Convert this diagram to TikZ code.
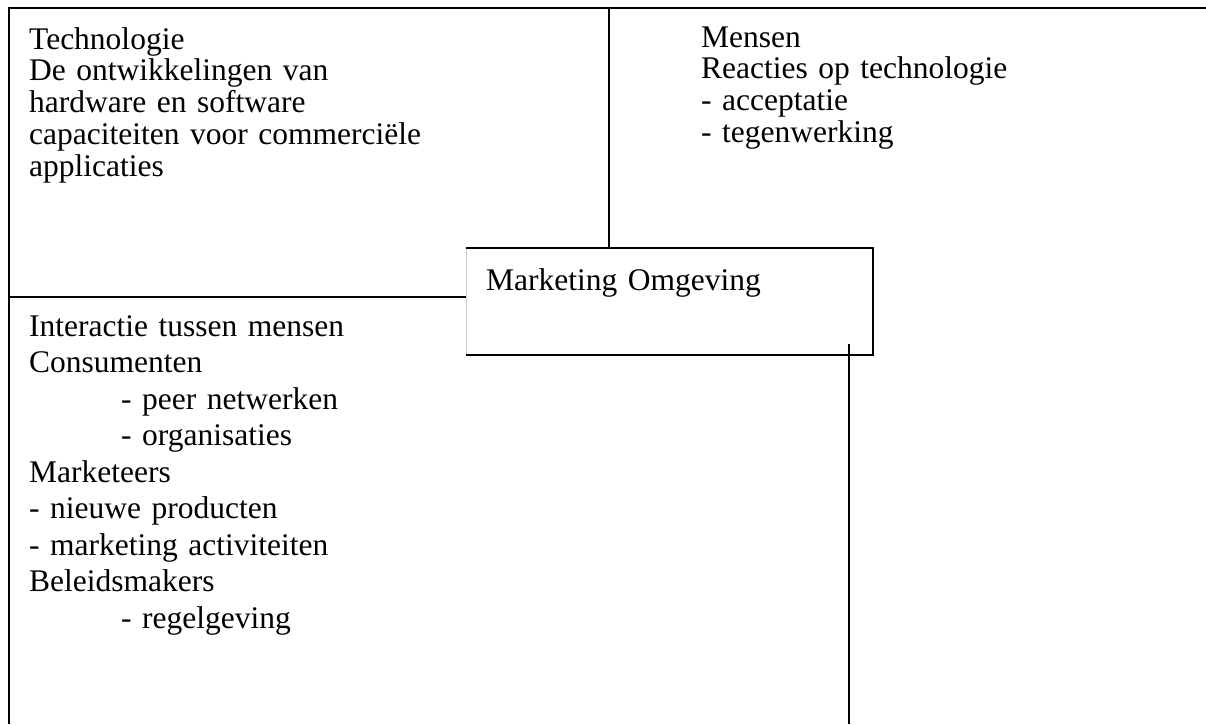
\documentclass[tikz,border=0pt]{standalone}
\usepackage{fontspec}
\setmainfont{Liberation Serif}
\usepackage{tikz}
\usetikzlibrary{positioning}

\begin{document}
\begin{tikzpicture}[x=1pt, y=-1pt,
	tight/.style={font=\fontsize{31.5}{31.8}\selectfont, inner sep=0, anchor=base west, text width=440, align=left},
	loose/.style={tight, font=\fontsize{31.5}{36.5}\selectfont},
	rule/.style={line width=2pt}
]
\useasboundingbox (0,0) rectangle (1206,724);

% frame corners
\coordinate (tl) at (8.5,8);
\coordinate (tr) at (1206,8);
\coordinate (bl) at (8.5,724);
\coordinate (mid) at (609,8);
\coordinate (cut) at (8.5,296.5);
\coordinate (foot) at (849,724);

\node[draw=none, minimum width=407, minimum height=107, inner sep=0, anchor=north west] (omgeving) at (466,248) {};
\node[tight] (omglabel) at (486,290) {Marketing Omgeving};

\node[tight] (tech) at (29,49) {Technologie\\De ontwikkelingen van\\hardware en software\\capaciteiten voor commerciële\\applicaties};
\node[tight] (mensen) at (701,47) {Mensen\\Reacties op technologie\\- acceptatie\\- tegenwerking};
\node[loose] (interactie) at (29,336) {Interactie tussen mensen\\Consumenten\\\hspace*{92pt}- peer netwerken\\\hspace*{92pt}- organisaties\\Marketeers\\- nieuwe producten\\- marketing activiteiten\\Beleidsmakers\\\hspace*{92pt}- regelgeving};

\draw[rule] (tr) -- (tl) -- (bl);
\draw[rule] (mid) -- (mid |- omgeving.north);
\draw[rule] (cut) -- (cut -| omgeving.west);
\draw[black!20, line width=1pt] (omgeving.north west) -- (omgeving.south west);
\draw[rule] (omgeving.north west) -- (omgeving.north east) -- (omgeving.south east) -- (omgeving.south west);
\draw[rule] (foot) -- (foot |- 0,344);
\end{tikzpicture}
\end{document}
